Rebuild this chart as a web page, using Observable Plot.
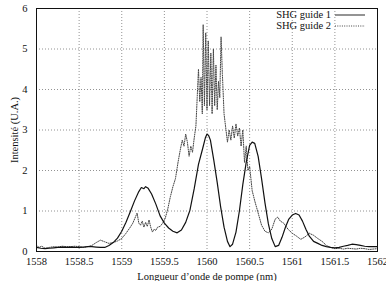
<!DOCTYPE html>
<html>
<head>
<meta charset="utf-8">
<script src="https://cdn.jsdelivr.net/npm/d3@7"></script>
<script src="https://cdn.jsdelivr.net/npm/@observablehq/plot@0.6"></script>
<style>
  html, body { margin: 0; padding: 0; background: #fff; }
  #wrap { position: relative; width: 386px; height: 281px; font-family: "Liberation Serif", "DejaVu Serif", serif; }
  #legend { position: absolute; top: 9px; right: 21px; font-size: 10.5px; line-height: 11px; color: #111; }
  #legend div { display: flex; align-items: center; justify-content: flex-end; height: 11px; }
  #legend svg { margin-left: 4px; }
</style>
</head>
<body>
<div id="wrap"><div id="legend"></div></div>
<script>
const xTicks = [1558, 1558.5, 1559, 1559.5, 1560, 1560.5, 1561, 1561.5, 1562];
const yTicks = [0, 1, 2, 3, 4, 5, 6];
const seriesNames = ["SHG guide 1", "SHG guide 2"];

const g1x = [1558.00,1558.05,1558.10,1558.15,1558.20,1558.25,1558.30,1558.35,1558.40,1558.45,1558.50,1558.55,1558.60,1558.65,1558.70,1558.75,1558.80,1558.85,1558.90,1558.95,1559.00,1559.05,1559.10,1559.15,1559.20,1559.23,1559.26,1559.28,1559.31,1559.35,1559.40,1559.45,1559.50,1559.55,1559.60,1559.65,1559.70,1559.75,1559.80,1559.85,1559.90,1559.95,1559.98,1560.00,1560.02,1560.04,1560.08,1560.12,1560.16,1560.20,1560.24,1560.27,1560.30,1560.34,1560.38,1560.42,1560.46,1560.50,1560.53,1560.56,1560.60,1560.64,1560.68,1560.72,1560.76,1560.80,1560.84,1560.88,1560.92,1560.96,1561.00,1561.04,1561.08,1561.12,1561.16,1561.20,1561.25,1561.30,1561.35,1561.40,1561.45,1561.50,1561.55,1561.60,1561.65,1561.70,1561.75,1561.80,1561.85,1561.90,1561.95,1562.00];
const g1y = [0.10,0.08,0.07,0.08,0.09,0.10,0.11,0.10,0.11,0.10,0.10,0.11,0.12,0.12,0.11,0.10,0.10,0.15,0.22,0.33,0.50,0.72,0.98,1.25,1.48,1.58,1.55,1.60,1.56,1.42,1.17,0.88,0.70,0.58,0.50,0.46,0.53,0.72,1.02,1.55,2.15,2.55,2.80,2.90,2.86,2.75,2.25,1.70,1.10,0.60,0.25,0.12,0.18,0.48,1.00,1.65,2.20,2.62,2.70,2.67,2.35,1.80,1.20,0.68,0.32,0.12,0.15,0.35,0.60,0.80,0.90,0.94,0.90,0.75,0.55,0.38,0.25,0.20,0.15,0.12,0.10,0.09,0.10,0.13,0.15,0.18,0.17,0.15,0.13,0.12,0.12,0.12];

const g2x = [1558.00,1558.03,1558.06,1558.10,1558.15,1558.20,1558.25,1558.30,1558.35,1558.40,1558.45,1558.50,1558.55,1558.60,1558.65,1558.70,1558.75,1558.80,1558.85,1558.90,1558.95,1559.00,1559.05,1559.10,1559.13,1559.16,1559.18,1559.20,1559.22,1559.24,1559.26,1559.28,1559.30,1559.32,1559.34,1559.36,1559.38,1559.40,1559.42,1559.45,1559.48,1559.51,1559.54,1559.57,1559.60,1559.63,1559.66,1559.69,1559.71,1559.73,1559.75,1559.77,1559.79,1559.81,1559.83,1559.85,1559.87,1559.885,1559.90,1559.915,1559.93,1559.945,1559.955,1559.97,1559.985,1560.00,1560.015,1560.03,1560.045,1560.06,1560.075,1560.09,1560.105,1560.12,1560.135,1560.15,1560.165,1560.18,1560.20,1560.22,1560.24,1560.26,1560.28,1560.30,1560.32,1560.34,1560.36,1560.38,1560.40,1560.42,1560.44,1560.46,1560.48,1560.50,1560.53,1560.56,1560.60,1560.64,1560.68,1560.72,1560.76,1560.80,1560.83,1560.86,1560.90,1560.95,1561.00,1561.05,1561.10,1561.15,1561.20,1561.25,1561.30,1561.35,1561.40,1561.45,1561.50,1561.55,1561.60,1561.65,1561.70,1561.75,1561.80,1561.85,1561.90,1561.95,1562.00];
const g2y = [0.15,0.10,0.13,0.08,0.10,0.12,0.11,0.13,0.12,0.12,0.13,0.12,0.10,0.12,0.15,0.22,0.28,0.24,0.20,0.22,0.26,0.32,0.45,0.60,0.70,0.85,0.95,0.70,0.65,0.75,0.60,0.72,0.62,0.78,0.60,0.48,0.55,0.52,0.60,0.62,0.70,0.82,1.05,1.35,1.60,1.80,2.20,2.55,2.75,2.60,2.90,2.70,2.35,2.60,2.45,2.80,3.10,3.80,4.50,3.70,4.30,3.40,5.60,3.60,5.40,3.50,5.20,3.60,4.90,3.40,5.00,3.60,4.60,3.50,4.20,3.80,5.30,4.40,3.40,3.05,2.70,3.00,2.75,3.10,2.80,3.15,2.85,3.05,2.60,3.00,2.20,2.60,2.00,2.10,1.50,1.25,0.95,0.65,0.50,0.46,0.55,0.80,0.85,0.75,0.70,0.55,0.45,0.38,0.30,0.36,0.45,0.40,0.32,0.25,0.15,0.10,0.07,0.08,0.06,0.08,0.07,0.06,0.08,0.07,0.05,0.06,0.07];

const d1 = g1x.map((x, i) => ({x, y: g1y[i]}));
const d2 = g2x.map((x, i) => ({x, y: g2y[i]}));

const chart = Plot.plot({
  width: 386,
  height: 281,
  marginLeft: 36,
  marginRight: 9,
  marginTop: 8,
  marginBottom: 30,
  style: {fontFamily: "Liberation Serif, DejaVu Serif, serif", fontSize: "10.5px", color: "#111", background: "white"},
  x: {domain: [1558, 1562], ticks: xTicks, tickFormat: d => String(d), label: "Longueur d’onde de pompe (nm)", labelAnchor: "center", labelArrow: "none", tickSize: 0, tickPadding: 6, labelOffset: 28},
  y: {domain: [0, 6], ticks: yTicks, tickFormat: d => String(d), label: "Intensité (U.A.)", labelAnchor: "center", labelArrow: "none", tickSize: 0, tickPadding: 9, labelOffset: 26},
  marks: [
    Plot.gridX(xTicks, {stroke: "#777", strokeOpacity: 1, strokeDasharray: "1,2", strokeWidth: 0.8}),
    Plot.gridY(yTicks, {stroke: "#777", strokeOpacity: 1, strokeDasharray: "1,2", strokeWidth: 0.8}),
    Plot.line(d2, {x: "x", y: "y", stroke: "#444", strokeWidth: 1, strokeDasharray: "1,1.3"}),
    Plot.line(d1, {x: "x", y: "y", stroke: "#111", strokeWidth: 1.2}),
    Plot.frame({stroke: "#111", strokeWidth: 1})
  ]
});
const wrap = document.getElementById("wrap");
wrap.insertBefore(chart, wrap.firstChild);

const legend = document.getElementById("legend");
seriesNames.forEach((name, i) => {
  const row = document.createElement("div");
  const dash = i === 0 ? "" : 'stroke-dasharray="1,1.3"';
  row.innerHTML = `<span>${name}</span><svg width="30" height="8"><line x1="0" x2="30" y1="4" y2="4" stroke="${i === 0 ? '#666' : '#444'}" stroke-width="${i === 0 ? 1.4 : 1}" ${dash}/></svg>`;
  legend.appendChild(row);
});
</script>
</body>
</html>
